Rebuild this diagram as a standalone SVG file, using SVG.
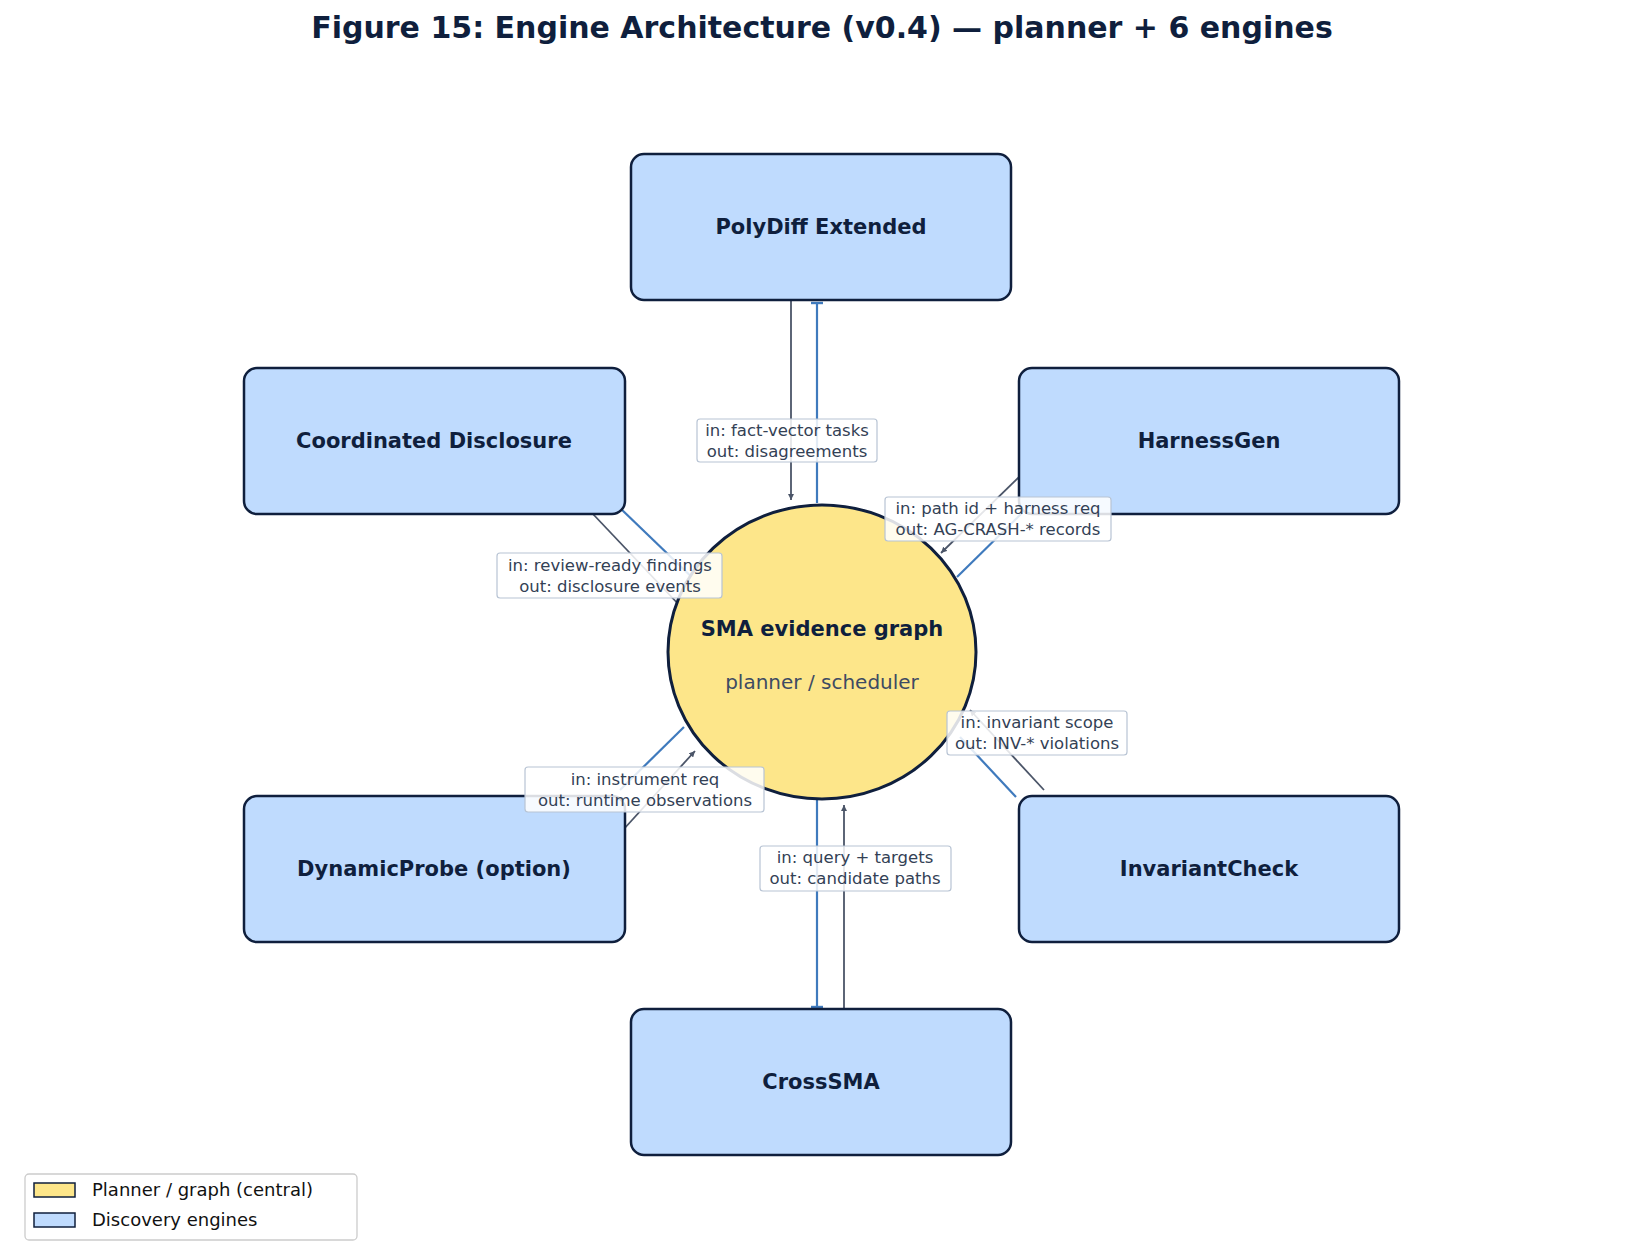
<svg xmlns="http://www.w3.org/2000/svg" width="1635" height="1260" viewBox="0 0 1635 1260">
<style>
text{font-family:"DejaVu Sans","Liberation Sans",sans-serif}
.box{fill:#bfdbfe;stroke:#0f1f3d;stroke-width:2.5}
.nt{font-size:21px;font-weight:bold;fill:#0f1f3d;text-anchor:middle}
.blue{stroke:#3f7abd;stroke-width:2.2;fill:none}
.gray{stroke:#4b5568;stroke-width:1.8;fill:none}
.lb{fill:#fff;fill-opacity:0.85;stroke:#b8c4d4;stroke-width:1.2}
.lt{font-size:16.5px;fill:#334155;text-anchor:middle}
</style>
<defs>
<marker id="ah" viewBox="0 0 10 10" refX="10" refY="5" markerWidth="6" markerHeight="6" orient="auto" markerUnits="userSpaceOnUse"><path d="M0,0L10,5L0,10z" fill="#4b5568"/></marker>
<marker id="bar" viewBox="0 0 10 10" refX="5" refY="5" markerWidth="12" markerHeight="12" orient="auto" markerUnits="userSpaceOnUse"><path d="M4,0L6,0L6,10L4,10z" fill="#3f7abd"/></marker>
</defs>
<rect width="1635" height="1260" fill="#fff"/>
<text x="822" y="38" style="font-size:30px;font-weight:bold;fill:#0f1f3d" text-anchor="middle">Figure 15: Engine Architecture (v0.4) — planner + 6 engines</text>
<g id="connectors">
<line class="gray" x1="791" y1="301" x2="791" y2="500" marker-end="url(#ah)"/>
<line class="blue" x1="817" y1="503" x2="817" y2="303" marker-end="url(#bar)"/>
<line class="blue" x1="817" y1="799" x2="817" y2="1007" marker-end="url(#bar)"/>
<line class="gray" x1="844" y1="1009" x2="844" y2="805" marker-end="url(#ah)"/>
<line class="gray" x1="592" y1="513" x2="682" y2="608" marker-end="url(#ah)"/>
<line class="blue" x1="620" y1="508" x2="700" y2="585"/>
<line class="gray" x1="1019" y1="477" x2="941" y2="553" marker-end="url(#ah)"/>
<line class="blue" x1="957" y1="577" x2="1022" y2="513"/>
<line class="gray" x1="623" y1="830" x2="695" y2="751" marker-end="url(#ah)"/>
<line class="blue" x1="684" y1="727" x2="620" y2="790"/>
<line class="blue" x1="1016" y1="797" x2="960" y2="737"/>
<line class="gray" x1="1044" y1="790" x2="970" y2="710" marker-end="url(#ah)"/>
</g>
<g id="planner"><ellipse cx="822" cy="652" rx="154" ry="147" fill="#fde68a" stroke="#0f1f3d" stroke-width="3"/>
<text class="nt" x="822" y="636">SMA evidence graph</text>
<text x="822" y="689" style="font-size:20px;fill:#3d4b63" text-anchor="middle">planner / scheduler</text></g>
<g id="polydiff"><rect class="box" x="631" y="154" width="380" height="146" rx="13"/><text class="nt" x="821" y="234">PolyDiff Extended</text></g>
<g id="coordinated"><rect class="box" x="244" y="368" width="381" height="146" rx="13"/><text class="nt" x="434" y="448">Coordinated Disclosure</text></g>
<g id="harnessgen"><rect class="box" x="1019" y="368" width="380" height="146" rx="13"/><text class="nt" x="1209" y="448">HarnessGen</text></g>
<g id="dynamicprobe"><rect class="box" x="244" y="796" width="381" height="146" rx="13"/><text class="nt" x="434" y="876">DynamicProbe  (option)</text></g>
<g id="invariantcheck"><rect class="box" x="1019" y="796" width="380" height="146" rx="13"/><text class="nt" x="1209" y="876">InvariantCheck</text></g>
<g id="crosssma"><rect class="box" x="631" y="1009" width="380" height="146" rx="13"/><text class="nt" x="821" y="1089">CrossSMA</text></g>
<g id="labels">
<rect class="lb" x="697" y="419" width="180" height="43" rx="3"/><text class="lt" x="787" y="436">in: fact-vector tasks</text><text class="lt" x="787" y="457">out: disagreements</text>
<rect class="lb" x="885" y="497" width="226" height="44" rx="3"/><text class="lt" x="998" y="514">in: path id + harness req</text><text class="lt" x="998" y="535">out: AG-CRASH-* records</text>
<rect class="lb" x="497" y="553" width="225" height="45" rx="3"/><text class="lt" x="610" y="571">in: review-ready findings</text><text class="lt" x="610" y="592">out: disclosure events</text>
<rect class="lb" x="947" y="711" width="180" height="44" rx="3"/><text class="lt" x="1037" y="728">in: invariant scope</text><text class="lt" x="1037" y="749">out: INV-* violations</text>
<rect class="lb" x="525" y="767" width="239" height="45" rx="3"/><text class="lt" x="645" y="785">in: instrument req</text><text class="lt" x="645" y="806">out: runtime observations</text>
<rect class="lb" x="760" y="846" width="191" height="45" rx="3"/><text class="lt" x="855" y="863">in: query + targets</text><text class="lt" x="855" y="884">out: candidate paths</text>
</g>
<g id="legend">
<rect x="25" y="1174" width="332" height="66" rx="4" fill="#fff" stroke="#cccccc" stroke-width="1.3"/>
<rect x="34" y="1183" width="41" height="14" fill="#fde68a" stroke="#0f1f3d" stroke-width="1.5"/>
<rect x="34" y="1213" width="41" height="14" fill="#bfdbfe" stroke="#0f1f3d" stroke-width="1.5"/>
<text x="92" y="1196" style="font-size:18px;fill:#111">Planner / graph (central)</text>
<text x="92" y="1226" style="font-size:18px;fill:#111">Discovery engines</text>
</g>
</svg>
